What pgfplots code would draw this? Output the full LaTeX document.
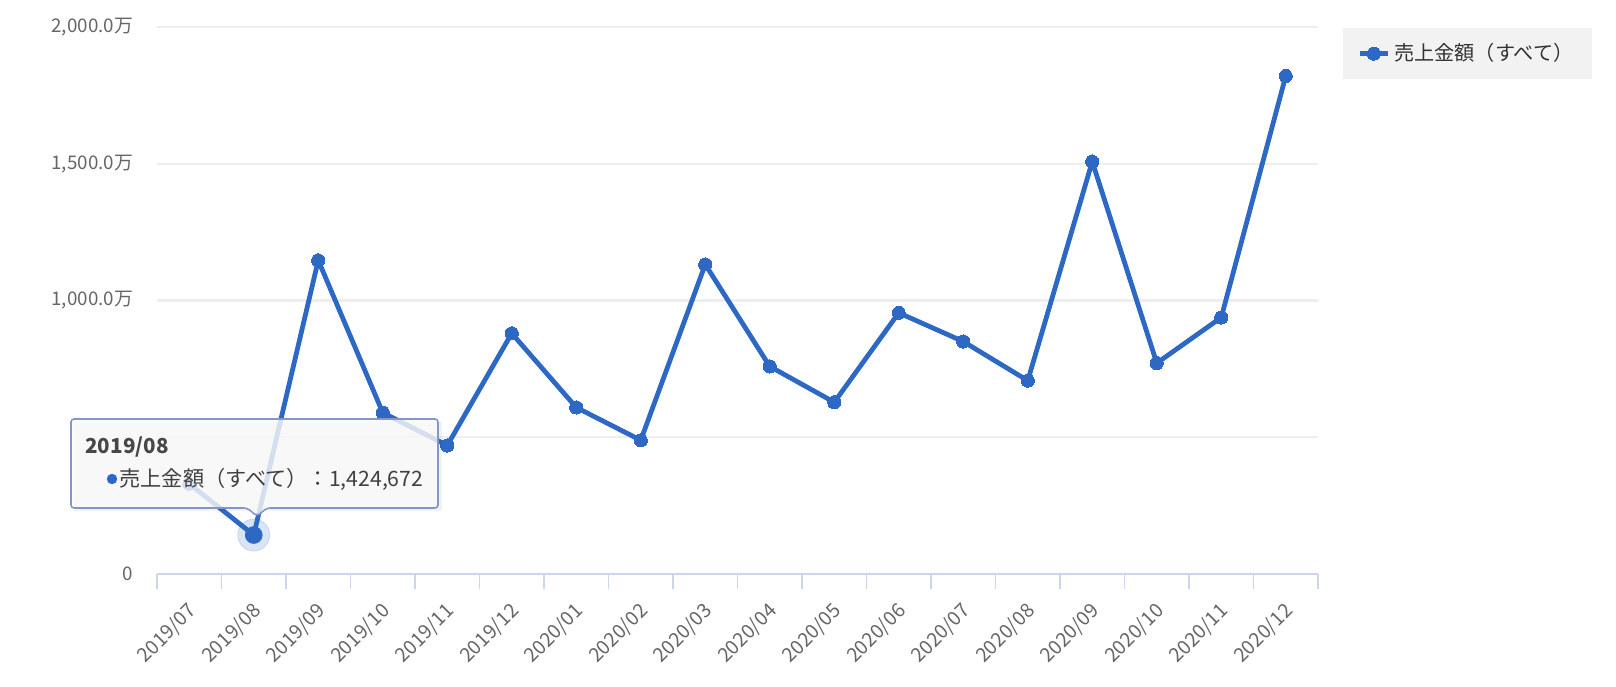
\documentclass[border=0pt]{standalone}
\usepackage{pgfplots}
\pgfplotsset{compat=1.18}
\usepackage{fontspec}
\setmainfont{Noto Sans CJK JP}
\definecolor{linecol}{RGB}{44,104,196}
\definecolor{gridcol}{RGB}{238,238,238}
\definecolor{axiscol}{RGB}{204,214,235}
\definecolor{labcol}{RGB}{102,102,102}
\definecolor{legfill}{RGB}{242,242,242}
\definecolor{tipborder}{RGB}{130,150,200}
\definecolor{tipfill}{RGB}{250,250,250}
\begin{document}
\begin{tikzpicture}
\begin{axis}[
  at={(78.5pt,56pt)}, anchor=south west,
  scale only axis, width=580.5pt, height=273.5pt,
  xmin=0, xmax=18, ymin=0, ymax=2000,
  clip=false,
  axis x line*=bottom, axis y line*=left,
  x axis line style={-, draw=axiscol, line width=1pt},
  y axis line style={draw=none},
  xtick={0.5,1.5,...,17.5},
  xticklabels={2019/07,2019/08,2019/09,2019/10,2019/11,2019/12,2020/01,2020/02,2020/03,2020/04,2020/05,2020/06,2020/07,2020/08,2020/09,2020/10,2020/11,2020/12},
  minor xtick={0,1,...,18},
  tick align=outside,
  major tick length=0pt,
  minor tick length=7.5pt,
  minor tick style={draw=axiscol, line width=0.8pt},
  xticklabel style={xshift=-1.5pt, yshift=-8.6pt, rotate=45, anchor=north east, font=\fontsize{9.8}{11}\selectfont, text=labcol},
  ytick={0,500,1000,1500,2000},
  yticklabels={0,,{1,000.0万},{1,500.0万},{2,000.0万}},
  yticklabel style={anchor=east, font=\fontsize{9.4}{10}\selectfont, text=labcol, xshift=-8.5pt},
  ytick style={draw=none},
  ymajorgrids, major grid style={draw=gridcol, line width=1.1pt},
  legend style={at={(1.0215,0.998)}, anchor=north west, fill=legfill, draw=none,
    font=\fontsize{10.1}{12}\selectfont, text=black!80, inner xsep=7pt, inner ysep=5.5pt},
  legend image code/.code={\draw[#1, mark repeat=2, mark phase=2] plot coordinates {(0pt,0pt) (7pt,0pt) (14pt,0pt)};},
]
\addplot[forget plot, only marks, mark=*, mark size=8pt, color=linecol, opacity=0.18] coordinates {(1.5,142.4672)};
\addplot[color=linecol, line width=2.4pt, mark=*, mark size=3.3pt, mark options={fill=linecol, draw=linecol, line width=0pt}] coordinates {
(0.5,330) (1.5,142.4672) (2.5,1147) (3.5,590) (4.5,470) (5.5,880) (6.5,609) (7.5,489) (8.5,1132) (9.5,759) (10.5,628) (11.5,955) (12.5,850) (13.5,707) (14.5,1508) (15.5,771) (16.5,938) (17.5,1821)};
\addlegendentry{売上金額（すべて）}
\addplot[forget plot, only marks, mark=*, mark size=4.2pt, color=linecol] coordinates {(1.5,142.4672)};
\end{axis}
% tooltip
\fill[black, opacity=0.05] (37pt,87.5pt) -- (221pt,87.5pt) -- (221pt,132pt) -- (37pt,132pt) -- cycle;
\draw[draw=tipborder, line width=0.8pt, fill=tipfill, fill opacity=0.82, rounded corners=1.5pt]
  (35.5pt,89pt) -- (123.5pt,89pt) -- (128.5pt,85pt) -- (133.5pt,89pt) -- (219pt,89pt) -- (219pt,133.5pt) -- (35.5pt,133.5pt) -- cycle;
\node[anchor=west, inner sep=0pt, font=\bfseries\fontsize{10.3}{12}\selectfont, text=black!72] at (42.5pt,119.5pt) {2019/08};
\fill[linecol] (56pt,103.5pt) circle (2.6pt);
\node[anchor=west, inner sep=0pt, font=\fontsize{10.6}{12}\selectfont, text=black!75] at (59.5pt,103.5pt) {売上金額（すべて）：1,424,672};
\path[use as bounding box] (0pt,0pt) rectangle (808pt,343pt);
\end{tikzpicture}
\end{document}
